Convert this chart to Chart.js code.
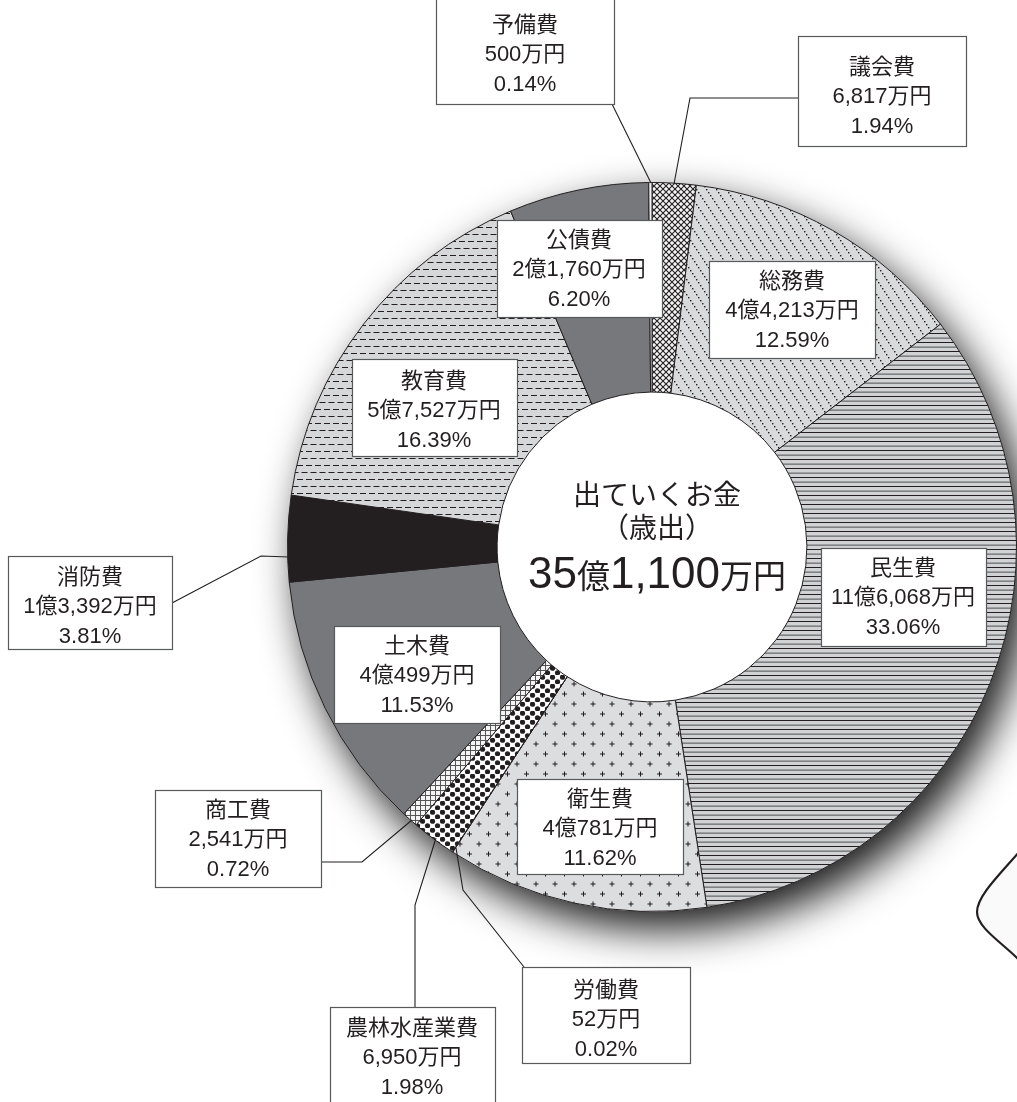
<!DOCTYPE html>
<html lang="ja">
<head>
<meta charset="utf-8">
<title>出ていくお金（歳出）</title>
<script src="https://cdn.jsdelivr.net/npm/chart.js@4.4.1/dist/chart.umd.min.js"></script>
<style>
  html, body { margin: 0; padding: 0; background: #fff; overflow: hidden; }
  #wrap { position: relative; width: 1017px; height: 1102px; }
</style>
</head>
<body>
<div id="wrap"><canvas id="chart"></canvas></div>
<script>
// --- データ ---
const categories = ['議会費', '総務費', '民生費', '衛生費', '労働費', '農林水産業費', '商工費', '土木費', '消防費', '教育費', '公債費', '予備費'];
const amounts = [6817, 44213, 116068, 40781, 52, 6950, 2541, 40499, 13392, 57527, 21760, 500]; // 万円
const percents = [1.94, 12.59, 33.06, 11.62, 0.02, 1.98, 0.72, 11.53, 3.81, 16.39, 6.20, 0.14];
const centerTitle = ['出ていくお金', '（歳出）'];
const totalAmount = 351100; // 万円

// 数字はArial系、漢字はCJKへフォールバック
const FONT = '"Liberation Sans", "Noto Sans CJK JP", sans-serif';
const INK = '#231f20';

// 金額の表記（例: 4億4,213万円）
function fmtYen(man) {
  const oku = Math.floor(man / 10000);
  const rest = man % 10000;
  let s = '';
  if (oku) s += oku + '億';
  if (rest) s += rest.toLocaleString('en-US');
  return s + '万円';
}

// --- 網掛けパターン ---
function pat(w, h, bg, draw) {
  const c = document.createElement('canvas');
  c.width = w; c.height = h;
  const g = c.getContext('2d');
  if (bg) { g.fillStyle = bg; g.fillRect(0, 0, w, h); }
  draw(g);
  return g.createPattern(c, 'repeat');
}

const patCross = pat(6, 6, '#f4f4f4', g => {
  g.strokeStyle = INK; g.lineWidth = 1.1;
  g.beginPath();
  g.moveTo(-1, -1); g.lineTo(7, 7);
  g.moveTo(-1, 7); g.lineTo(7, -1);
  g.stroke();
});
const patDotDiag = pat(10, 15, '#d9dadc', g => {
  g.fillStyle = INK;
  for (let i = 0; i < 5; i++) g.fillRect(i * 2, i * 3, 1.4, 1.4);
});
const patHLines = pat(4, 9, '#d1d2d4', g => {
  g.fillStyle = INK; g.fillRect(0, 0, 4, 1);
  g.fillStyle = '#6d6e70'; g.fillRect(0, 4.5, 4, 1.3);
});
const patPlus = pat(19, 20, '#dcdddf', g => {
  g.fillStyle = INK;
  [[4, 4], [13.5, 14]].forEach(([x, y]) => {
    g.fillRect(x - 2.5, y - 0.5, 5, 1);
    g.fillRect(x - 0.5, y - 2.5, 1, 5);
  });
});
const patBigDots = pat(10, 9, '#ffffff', g => {
  g.fillStyle = INK;
  [[2.5, 2.25], [7.5, 6.75], [-2.5, 6.75], [12.5, 6.75]].forEach(([x, y]) => {
    g.beginPath(); g.arc(x, y, 2.6, 0, Math.PI * 2); g.fill();
  });
});
const patGrid = pat(5, 5, '#f4f4f4', g => {
  g.fillStyle = '#555';
  g.fillRect(0, 0, 5, 1);
  g.fillRect(0, 0, 1, 5);
});
const patDash = pat(9, 14, '#d6d7d9', g => {
  g.fillStyle = INK;
  g.fillRect(0, 3, 6, 1);
  g.fillRect(4.5, 10, 4.5, 1);
  g.fillRect(0, 10, 1.5, 1);
});

const sliceFills = [patCross, patDotDiag, patHLines, patPlus, '#ffffff', patBigDots, patGrid, '#77787b', INK, patDash, '#77787b', '#f0f0f0'];

// --- ラベル配置（枠・文字中心・引出線） ---
const labelLayout = [
  { box: [798, 36, 966, 146], tx: 882, ty: 97, leader: [[798, 98], [690, 98], [674, 184]] }, // 議会費
  { box: [709, 261, 875, 358], tx: 792, ty: 311 }, // 総務費
  { box: [821, 548, 986, 646], tx: 903, ty: 598 }, // 民生費
  { box: [517, 779, 683, 874], tx: 600, ty: 829 }, // 衛生費
  { box: [522, 967, 690, 1063], tx: 606, ty: 1020, leader: [[524, 967], [463, 890], [456, 848]] }, // 労働費
  { box: [330, 1007, 495, 1112], tx: 412, ty: 1058, leader: [[415, 1007], [415, 905], [436, 838]] }, // 農林水産業費
  { box: [155, 790, 321, 887], tx: 238, ty: 840, leader: [[321, 862], [362, 862], [412, 820]] }, // 商工費
  { box: [334, 626, 500, 723], tx: 417, ty: 676 }, // 土木費
  { box: [8, 556, 172, 649], tx: 90, ty: 607, leader: [[172, 603], [261, 556], [289, 557]] }, // 消防費
  { box: [352, 359, 517, 456], tx: 434, ty: 411 }, // 教育費
  { box: [497, 220, 662, 317], tx: 579, ty: 270 }, // 公債費
  { box: [436, -2, 614, 104], tx: 525, ty: 55, leader: [[612, 104], [651, 183]] }, // 予備費
];

// 影
const shadowPlugin = {
  id: 'pieShadow',
  beforeDatasetsDraw(chart) {
    const arc = chart.getDatasetMeta(0).data[0];
    if (!arc) return;
    const ctx = chart.ctx;
    ctx.save();
    ctx.shadowColor = 'rgba(0,0,0,0.9)';
    ctx.shadowBlur = 42;
    ctx.shadowOffsetX = 12;
    ctx.shadowOffsetY = 18;
    ctx.fillStyle = '#fff';
    ctx.beginPath();
    ctx.arc(arc.x, arc.y, arc.outerRadius, 0, Math.PI * 2);
    ctx.fill();
    ctx.restore();
  }
};

// ラベル・中央文字
const labelPlugin = {
  id: 'boxLabels',
  afterDraw(chart) {
    const ctx = chart.ctx;
    ctx.save();

    // 右下の吹き出し（別図の一部）
    ctx.beginPath();
    ctx.moveTo(1019, 852);
    ctx.bezierCurveTo(1000, 874, 977, 896, 977, 912);
    ctx.bezierCurveTo(977, 928, 1004, 944, 1019, 960);
    ctx.fillStyle = '#fafafa';
    ctx.fill();
    ctx.strokeStyle = INK;
    ctx.lineWidth = 2.2;
    ctx.stroke();

    // 引出線
    ctx.strokeStyle = INK;
    ctx.lineWidth = 1.1;
    labelLayout.forEach(l => {
      if (!l.leader) return;
      ctx.beginPath();
      l.leader.forEach(([x, y], i) => i ? ctx.lineTo(x, y) : ctx.moveTo(x, y));
      ctx.stroke();
    });

    // 枠と文字
    labelLayout.forEach((l, i) => {
      const [x1, y1, x2, y2] = l.box;
      ctx.fillStyle = '#fff';
      ctx.fillRect(x1, y1, x2 - x1, y2 - y1);
      ctx.strokeStyle = '#58595b';
      ctx.lineWidth = 1.2;
      ctx.strokeRect(x1 + 0.5, y1 + 0.5, x2 - x1, y2 - y1);

      ctx.fillStyle = INK;
      ctx.font = `22px ${FONT}`;
      ctx.textAlign = 'center';
      ctx.textBaseline = 'middle';
      const lines = [categories[i], fmtYen(amounts[i]), percents[i].toFixed(2) + '%'];
      lines.forEach((t, k) => ctx.fillText(t, l.tx, l.ty + (k - 1) * 29.5));
    });

    // 中央
    const cx = 657;
    ctx.fillStyle = INK;
    ctx.textAlign = 'center';
    ctx.textBaseline = 'middle';
    ctx.font = `28px ${FONT}`;
    ctx.fillText(centerTitle[0], cx, 497);
    ctx.fillText(centerTitle[1], cx, 530);

    const totalText = fmtYen(totalAmount);
    const parts = totalText.match(/[\d,]+|[^\d,]+/g);
    const fontFor = p => /\d/.test(p) ? `44px ${FONT}` : `33px ${FONT}`;
    let w = 0;
    parts.forEach(p => { ctx.font = fontFor(p); w += ctx.measureText(p).width; });
    let x = cx - w / 2;
    ctx.textAlign = 'left';
    ctx.textBaseline = 'alphabetic';
    parts.forEach(p => {
      ctx.font = fontFor(p);
      ctx.fillText(p, x, 588);
      x += ctx.measureText(p).width;
    });
    ctx.restore();
  }
};

new Chart(document.getElementById('chart'), {
  type: 'doughnut',
  data: {
    labels: categories,
    datasets: [{
      data: amounts,
      backgroundColor: sliceFills,
      borderColor: INK,
      borderWidth: 1,
      hoverOffset: 0
    }]
  },
  options: {
    responsive: true,
    maintainAspectRatio: false,
    animation: false,
    cutout: '42.5%',
    layout: { padding: { left: 287, right: 0, top: 182, bottom: 190 } },
    plugins: {
      legend: { display: false },
      tooltip: { enabled: false }
    }
  },
  plugins: [shadowPlugin, labelPlugin]
});
</script>
</body>
</html>
